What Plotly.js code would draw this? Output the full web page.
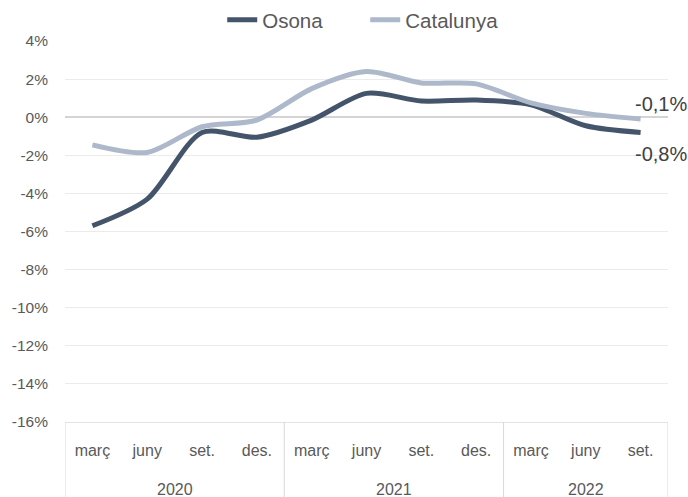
<!DOCTYPE html>
<html>
<head>
<meta charset="utf-8">
<script src="https://cdn.plot.ly/plotly-3.0.1.min.js"></script>
<style>
html,body{margin:0;padding:0;background:#fff;}
#chart{width:688px;height:497px;}
</style>
</head>
<body>
<div id="chart"></div>
<script>
// Data
const years  = ['2020','2020','2020','2020','2021','2021','2021','2021','2022','2022','2022'];
const months = ['març','juny','set.','des.','març','juny','set.','des.','març','juny','set.'];
const osona     = [-5.7, -4.3, -0.8, -1.05, -0.15, 1.25, 0.85, 0.9, 0.65, -0.45, -0.8];
const catalunya = [-1.45, -1.85, -0.5, -0.15, 1.5, 2.4, 1.8, 1.75, 0.75, 0.2, -0.1];
const yTickVals = [4, 2, 0, -2, -4, -6, -8, -10, -12, -14, -16];
const yTickText = ['4%','2%','0%','-2%','-4%','-6%','-8%','-10%','-12%','-14%','-16%'];

const FONT = 'Liberation Sans, Arial, sans-serif';
const DARK = '#44546A';
const LIGHT = '#ADB9CA';
const TXT = '#595959';

function fmt(v){ return v.toFixed(1).replace('.', ',') + '%'; }

// unique category keys built from year + month, shown with month text
const cats = months.map((m, i) => years[i] + ' ' + m);

const traces = [
  {x:cats, y:osona, name:'Osona', type:'scatter', mode:'lines',
   line:{color:DARK, width:5, shape:'spline', smoothing:0.8}, hoverinfo:'skip'},
  {x:cats, y:catalunya, name:'Catalunya', type:'scatter', mode:'lines',
   line:{color:LIGHT, width:5, shape:'spline', smoothing:0.8}, hoverinfo:'skip'}
];

// year groups: first/last category index of each year
const groups = [];
years.forEach((y, i) => {
  const g = groups[groups.length - 1];
  if (g && g.year === y) g.end = i; else groups.push({year:y, start:i, end:i});
});

const shapes = [];
const annotations = [];
groups.forEach((g, k) => {
  if (k === 0) shapes.push({type:'line', xref:'x', yref:'paper', x0:g.start - 0.5, x1:g.start - 0.5,
    y0:0, y1:-0.2, line:{color:'#D9D9D9', width:1}});
  shapes.push({type:'line', xref:'x', yref:'paper', x0:g.end + 0.5, x1:g.end + 0.5,
    y0:0, y1:-0.2, line:{color:'#D9D9D9', width:1}});
  annotations.push({xref:'x', yref:'paper', x:(g.start + g.end) / 2, y:-0.176, yanchor:'middle',
    text:g.year, showarrow:false, font:{size:16, color:TXT}});
});

const last = osona.length - 1;
annotations.push(
  {xref:'paper', yref:'y', x:1.034, xanchor:'right', y:catalunya[last], yshift:15,
   text:fmt(catalunya[last]), showarrow:false, font:{size:20, color:'#404040'}},
  {xref:'paper', yref:'y', x:1.034, xanchor:'right', y:osona[last], yshift:-22,
   text:fmt(osona[last]), showarrow:false, font:{size:20, color:'#404040'}}
);

const layout = {
  width:688, height:497,
  margin:{l:65, r:20, t:41, b:75},
  paper_bgcolor:'#fff', plot_bgcolor:'#fff',
  font:{family:FONT, color:TXT, size:15},
  showlegend:true,
  legend:{orientation:'h', xref:'container', yref:'container', x:0.323, xanchor:'left',
          y:1.0, yanchor:'top', font:{size:20.5, color:TXT}, traceorder:'normal',
          itemwidth:30, entrywidth:98, entrywidthmode:'pixels'},
  xaxis:{type:'category', range:[-0.5, cats.length - 0.5], tickvals:cats, ticktext:months,
         showgrid:false, zeroline:false, showline:true, linecolor:'#E3E3E3', linewidth:1,
         ticks:'', ticklabelstandoff:14, tickfont:{size:16, color:TXT}, fixedrange:true},
  yaxis:{range:[-16,4], tickvals:yTickVals, ticktext:yTickText, showgrid:true,
         gridcolor:'#EBEBEB', gridwidth:1, zeroline:true, zerolinecolor:'#D4D4D4',
         zerolinewidth:1.5, showline:false, ticks:'', ticklabelstandoff:16,
         tickfont:{size:15.5, color:TXT}, fixedrange:true},
  shapes:shapes,
  annotations:annotations
};

Plotly.newPlot('chart', traces, layout, {displayModeBar:false, staticPlot:true});
</script>
</body>
</html>
